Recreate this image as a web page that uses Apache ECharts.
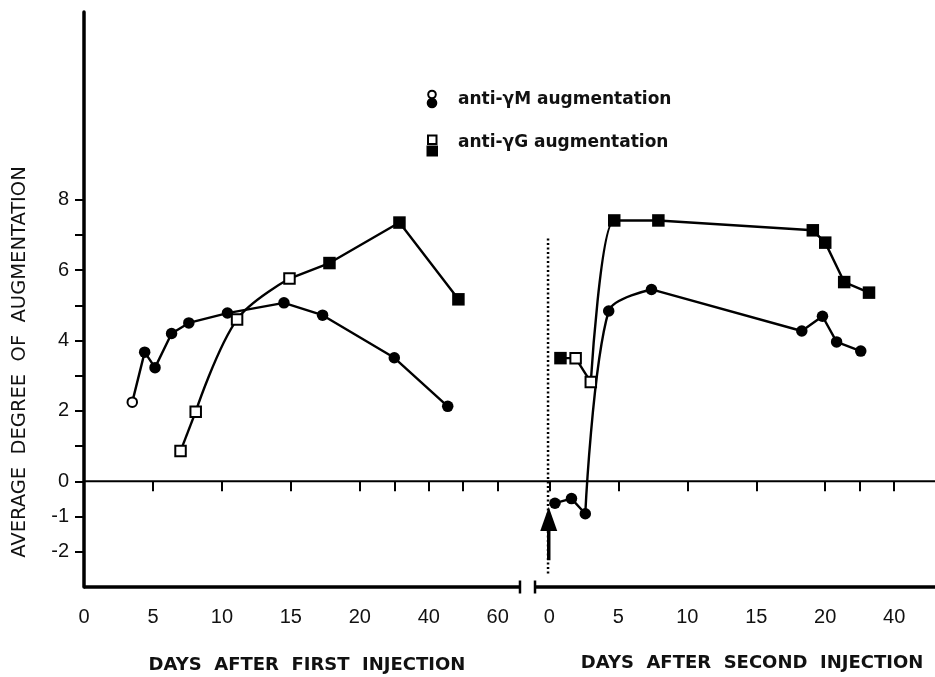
<!DOCTYPE html>
<html><head><meta charset="utf-8">
<script src="https://cdn.jsdelivr.net/npm/echarts@6/dist/echarts.min.js"></script>
<style>html,body{margin:0;padding:0;background:#fff}#c{width:935px;height:677px}</style>
</head><body><div id="c"></div>
<script>
// ---- tick definitions ----
const firstTickDays = [0, 5, 10, 15, 20, 30, 40, 50, 60];
const firstLabelDays = [0, 5, 10, 15, 20, 40, 60];
const secondTickDays = [0, 5, 10, 15, 20, 30, 40];
const secondLabelDays = [0, 5, 10, 15, 20, 40];
const yTicks = [-2, -1, 0, 1, 2, 3, 4, 5, 6, 7, 8];
const yLabels = [8, 6, 4, 2, 0, -1, -2];

// ---- data: first injection ----
const m1Days = [3.5, 4.4, 5.15, 6.35, 7.6, 10.4, 14.5, 17.3, 30, 45.5];
const m1Vals = [2.25, 3.67, 3.23, 4.2, 4.5, 4.78, 5.07, 4.72, 3.51, 2.13];
const m1Open = [true, false, false, false, false, false, false, false, false, false];
const g1Days = [7.0, 8.1, 11.1, 14.9, 17.8, 31.5, 48.6];
const g1Vals = [0.86, 1.98, 4.6, 5.76, 6.2, 7.35, 5.17];
const g1Open = [true, true, true, true, false, false, false];
// ---- data: second injection ----
const m2Days = [0.4, 1.6, 2.6, 4.3, 7.4, 18.3, 19.8, 23.3, 30.3];
const m2Vals = [-0.62, -0.49, -0.92, 4.84, 5.45, 4.27, 4.69, 3.96, 3.7];
const m2Open = [false, false, false, false, false, false, false, false, false];
const g2Days = [0.8, 1.9, 3.0, 4.7, 7.9, 19.1, 20.0, 25.5, 32.7];
const g2Vals = [3.5, 3.5, 2.82, 7.41, 7.41, 7.13, 6.78, 5.66, 5.36];
const g2Open = [false, true, true, false, false, false, false, false, false];

// axis scale: 5 days per unit up to 20, then 20 days per unit; second panel offset
const SEG2 = 6.75;
const XMAX = 12.342;
function toT(day, seg) {
  const t = day <= 20 ? day / 5 : 4 + (day - 20) / 20;
  return t + (seg === 2 ? SEG2 : 0);
}
const key = v => Math.round(v * 1000);
const labelMap = {};
firstLabelDays.forEach(d => labelMap[key(toT(d, 1))] = String(d));
secondLabelDays.forEach(d => labelMap[key(toT(d, 2))] = String(d));
const xTickVals = firstTickDays.map(d => toT(d, 1)).concat(secondTickDays.map(d => toT(d, 2)));
const xLabelVals = firstLabelDays.map(d => toT(d, 1)).concat(secondLabelDays.map(d => toT(d, 2)));

function marks(days, vals, open, seg, kind) {
  return {
    type: 'scatter', clip: false, z: 6,
    data: days.map((d, i) => ({
      value: [toT(d, seg), vals[i]],
      symbol: kind === 'c' ? 'circle' : 'rect',
      symbolSize: kind === 'c' ? (open[i] ? 9.5 : 11.5) : (open[i] ? 10.5 : 12.5),
      itemStyle: open[i] ? { color: '#fff', borderColor: '#000', borderWidth: 2, opacity: 1 } : { color: '#000', borderWidth: 0, opacity: 1 }
    }))
  };
}
// pieces: [startIndex, endIndex, smooth]
function lines(days, vals, seg, pieces) {
  return pieces.map(([a, b, s]) => ({
    type: 'line', clip: false, silent: true, symbol: 'none', smooth: s, z: 5,
    data: days.slice(a, b + 1).map((d, i) => [toT(d, seg), vals[a + i]]),
    lineStyle: { color: '#000', width: 2.4 }
  }));
}

const chart = echarts.init(document.getElementById('c'), null, { renderer: 'canvas' });
chart.setOption({
  animation: false,
  backgroundColor: '#fff',
  grid: { left: 84, right: 0, top: 12, bottom: 90 },
  xAxis: {
    type: 'value', min: 0, max: XMAX,
    axisLine: { show: false },
    splitLine: { show: false },
    axisTick: { show: true, customValues: xTickVals, length: 10, lineStyle: { color: '#000', width: 2 } },
    axisLabel: {
      customValues: xLabelVals, margin: 20,
      formatter: v => labelMap[key(v)] || '',
      color: '#111', fontFamily: 'Liberation Sans', fontSize: 20
    }
  },
  yAxis: {
    type: 'value', min: -3, max: 13.33,
    axisLine: { show: true, lineStyle: { color: '#000', width: 3.5 } },
    splitLine: { show: false },
    axisTick: { show: true, customValues: yTicks, length: 9, lineStyle: { color: '#000', width: 2 } },
    axisLabel: { customValues: yLabels, margin: 15, formatter: v => String(v), color: '#111', fontFamily: 'Liberation Sans', fontSize: 20 }
  },
  series: [
    // x axis with a break
    { type: 'line', silent: true, clip: false, symbol: 'none', data: [[0, -3], [6.323, -3]], lineStyle: { color: '#000', width: 3.5 }, z: 3 },
    { type: 'line', silent: true, clip: false, symbol: 'none', data: [[6.541, -3], [XMAX, -3]], lineStyle: { color: '#000', width: 3.5 }, z: 3 },
    { type: 'scatter', silent: true, clip: false, symbol: 'rect', symbolSize: [2.5, 13], data: [[6.323, -3], [6.541, -3]], itemStyle: { color: '#000', opacity: 1 }, z: 3 },
    // zero line
    { type: 'line', silent: true, clip: false, symbol: 'none', data: [[0, 0], [XMAX, 0]], lineStyle: { color: '#000', width: 2 }, z: 2 },
    // second injection dotted line
    { type: 'line', silent: true, clip: false, symbol: 'none', data: [[toT(-0.1, 2), 6.9], [toT(-0.1, 2), -2.67]], lineStyle: { color: '#000', width: 2.5, type: [2, 2.5] }, z: 2 },
    // arrow
    { type: 'line', silent: true, clip: false, data: [
        { value: [toT(-0.05, 2), -2.24], symbol: 'none' },
        { value: [toT(-0.05, 2), -1.07], symbol: 'triangle', symbolSize: [17, 24] }
      ], itemStyle: { color: '#000', opacity: 1 }, lineStyle: { color: '#000', width: 3.5 }, z: 4 },
    ...lines(m1Days, m1Vals, 1, [[0, 9, false]]),
    ...lines(g1Days, g1Vals, 1, [[0, 1, false], [1, 3, 0.35], [3, 6, false]]),
    ...lines(m2Days, m2Vals, 2, [[0, 2, false], [2, 4, 0.3], [4, 8, false]]),
    ...lines(g2Days, g2Vals, 2, [[0, 2, false], [2, 4, 0.25], [4, 8, false]]),
    marks(m1Days, m1Vals, m1Open, 1, 'c'),
    marks(g1Days, g1Vals, g1Open, 1, 's'),
    marks(m2Days, m2Vals, m2Open, 2, 'c'),
    marks(g2Days, g2Vals, g2Open, 2, 's')
  ],
  graphic: [
    // legend
    { type: 'circle', shape: { cx: 432, cy: 94.5, r: 3.8 }, style: { fill: '#fff', stroke: '#000', lineWidth: 2 } },
    { type: 'circle', shape: { cx: 432, cy: 103, r: 5.3 }, style: { fill: '#000' } },
    { type: 'text', left: 458, top: 91, style: { text: 'anti-γM augmentation', font: 'bold 17px "DejaVu Sans"', fill: '#111' } },
    { type: 'rect', shape: { x: 428, y: 135.5, width: 8.5, height: 8.5 }, style: { fill: '#fff', stroke: '#000', lineWidth: 2 } },
    { type: 'rect', shape: { x: 426.5, y: 145.5, width: 11.5, height: 11 }, style: { fill: '#000' } },
    { type: 'text', left: 458, top: 134, style: { text: 'anti-γG augmentation', font: 'bold 17px "DejaVu Sans"', fill: '#111' } },
    // axis titles
    { type: 'text', x: 307, y: 665, style: { text: 'DAYS  AFTER  FIRST  INJECTION', font: 'bold 18px "DejaVu Sans"', fill: '#111', align: 'center', verticalAlign: 'middle' } },
    { type: 'text', x: 752, y: 663, style: { text: 'DAYS  AFTER  SECOND  INJECTION', font: 'bold 18px "DejaVu Sans"', fill: '#111', align: 'center', verticalAlign: 'middle' } },
    { type: 'text', x: 20, y: 362, rotation: Math.PI / 2, style: { text: 'AVERAGE  DEGREE  OF  AUGMENTATION', font: '19.5px "DejaVu Sans"', fill: '#111', align: 'center', verticalAlign: 'middle' } }
  ]
});
</script></body></html>
